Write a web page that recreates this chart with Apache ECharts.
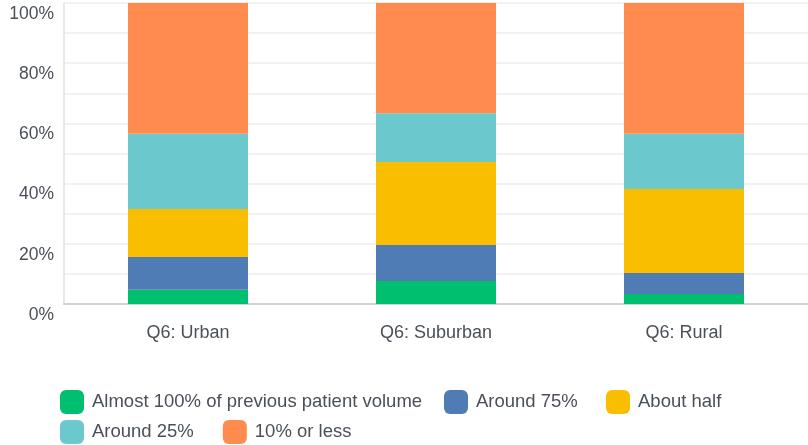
<!DOCTYPE html>
<html>
<head>
<meta charset="utf-8">
<script src="https://cdn.jsdelivr.net/npm/echarts@6/dist/echarts.min.js"></script>
<style>html,body{margin:0;padding:0;background:#fff}#c{width:808px;height:445px}</style>
</head>
<body>
<div id="c"></div>
<script>
const categories = ['Q6: Urban', 'Q6: Suburban', 'Q6: Rural'];
const seriesNames = ['Almost 100% of previous patient volume', 'Around 75%', 'About half', 'Around 25%', '10% or less'];
const almost100 = [4.7, 7.6, 3.3];
const around75 = [10.9, 12.0, 7.0];
const aboutHalf = [16.0, 27.6, 27.9];
const around25 = [25.0, 16.2, 18.4];
const tenOrLess = [43.4, 36.6, 43.4];
const yTicks = [0, 20, 40, 60, 80, 100];

const colors = ['#00bf6f', '#507cb6', '#f9be00', '#6bc8cd', '#ff8b4f'];
const values = [almost100, around75, aboutHalf, around25, tenOrLess];
const FONT = '"Liberation Sans", Arial, sans-serif';
const TXT = '#4a5058';

const chart = echarts.init(document.getElementById('c'), null, {renderer: 'canvas'});

function legendAt(names, left, top) {
  return {
    data: names,
    left: left, top: top,
    padding: 0,
    orient: 'horizontal',
    itemWidth: 24, itemHeight: 24, itemGap: 29,
    icon: 'roundRect',
    selectedMode: false,
    textStyle: {fontFamily: FONT, fontSize: 18.5, color: TXT, padding: [0, 0, 0, 3]}
  };
}

chart.setOption({
  animation: false,
  color: colors,
  grid: {left: 64, right: -2, top: 3, bottom: 141, containLabel: false},
  legend: [
    legendAt([seriesNames[0]], 60, 390),
    legendAt([seriesNames[1]], 444, 390),
    legendAt([seriesNames[2]], 606, 390),
    legendAt([seriesNames[3], seriesNames[4]], 60, 420)
  ],
  xAxis: {
    type: 'category',
    data: categories,
    axisTick: {show: false},
    axisLine: {show: true, lineStyle: {color: '#d2d2d2', width: 2}},
    axisLabel: {fontFamily: FONT, fontSize: 18, color: TXT, margin: 20}
  },
  yAxis: {
    type: 'value',
    min: 0, max: 100, interval: 10,
    axisLine: {show: true, lineStyle: {color: '#e2e2e2', width: 1.5}},
    axisTick: {show: false},
    splitLine: {show: true, lineStyle: {color: '#ececec', width: 1.5}},
    axisLabel: {
      fontFamily: FONT, fontSize: 17.5, color: TXT, margin: 10,
      verticalAlign: 'top', padding: [2, 0, 0, 0],
      formatter: v => yTicks.indexOf(v) >= 0 ? v + '%' : ''
    }
  },
  series: seriesNames.map((n, i) => ({
    name: n,
    type: 'bar',
    stack: 'total',
    barWidth: 120,
    data: values[i],
    itemStyle: {color: colors[i]}
  }))
});
</script>
</body>
</html>
